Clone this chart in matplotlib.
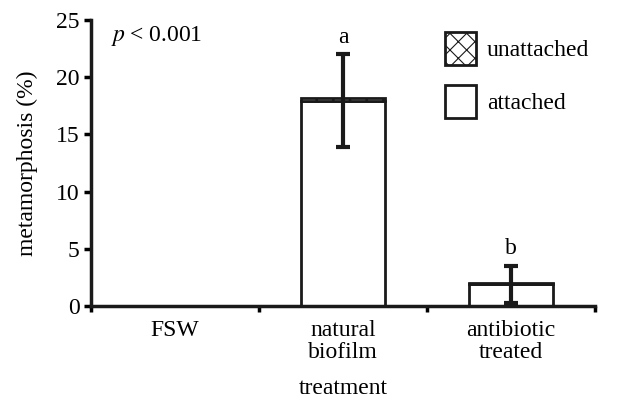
import matplotlib
matplotlib.use("Agg")
import matplotlib.pyplot as plt
from matplotlib.patches import Patch
import numpy as np

plt.rcParams['font.family'] = ['Liberation Serif', 'DejaVu Serif']
plt.rcParams['mathtext.fontset'] = 'stix'
plt.rcParams['hatch.linewidth'] = 0.8

treatments = ["FSW", "natural\nbiofilm", "antibiotic\ntreated"]
attached = [0.0, 17.9, 1.9]
unattached = [0.0, 0.3, 0.1]
mean_total = [0.0, 17.95, 1.9]
sem = [0.0, 4.05, 1.6]
letters = ["", "a", "b"]

FS = 17


def plot_metamorphosis():
    fig = plt.figure(figsize=(6.22, 4.01), dpi=100)
    ax = fig.add_axes([0.146, 0.237, 0.811, 0.713])

    x = np.arange(len(treatments))
    show = [i for i in x if attached[i] + unattached[i] > 0]
    ax.bar([x[i] for i in show], [attached[i] for i in show], width=0.5,
           color="white", edgecolor="#1a1a1a", linewidth=2)
    ax.bar([x[i] for i in show], [unattached[i] for i in show], width=0.5,
           bottom=[attached[i] for i in show], color="white",
           edgecolor="#1a1a1a", linewidth=2, hatch="xx")
    ax.errorbar([x[i] for i in show], [mean_total[i] for i in show],
                yerr=[sem[i] for i in show], fmt="none", ecolor="#1a1a1a",
                elinewidth=3, capsize=5, capthick=3)

    for i in show:
        ax.text(x[i], mean_total[i] + sem[i] + 1.0, letters[i],
                ha="center", va="baseline", fontsize=FS)

    ax.text(0.04, 0.945, r"$p$" + "\u2009< 0.001", transform=ax.transAxes,
            fontsize=FS, ha="left", va="center")

    ax.set_xlim(-0.5, 2.5)
    ax.set_ylim(0, 25)
    ax.set_yticks([0, 5, 10, 15, 20, 25])
    ax.set_xticks([-0.5, 0.5, 1.5, 2.5])
    ax.set_xticklabels([])
    ax.set_xticks(x, minor=True)
    ax.set_xticklabels(treatments, minor=True, fontsize=FS, linespacing=1.05)
    ax.tick_params(axis="x", which="minor", length=0, pad=10)
    ax.tick_params(axis="x", which="major", length=4, width=2.5, direction="out")
    ax.tick_params(axis="y", length=5, width=2.5, direction="out", labelsize=FS, pad=3)

    for side in ["top", "right"]:
        ax.spines[side].set_visible(False)
    for side in ["left", "bottom"]:
        ax.spines[side].set_linewidth(2.5)
        ax.spines[side].set_color("#1a1a1a")

    ax.set_ylabel("metamorphosis (%)", fontsize=FS, labelpad=13)
    ax.set_xlabel("treatment", fontsize=FS, labelpad=11)

    handles = [Patch(facecolor="white", edgecolor="#1a1a1a", linewidth=2, hatch="xx"),
               Patch(facecolor="white", edgecolor="#1a1a1a", linewidth=2)]
    ax.legend(handles, ["unattached", "attached"], loc="upper left",
              bbox_to_anchor=(0.67, 1.015), frameon=False, fontsize=FS,
              handlelength=1.3, handleheight=1.75, labelspacing=0.85,
              handletextpad=0.45, borderaxespad=0.3)

    plt.savefig("out.png", dpi=100)
    plt.close()


if __name__ == '__main__':
    plot_metamorphosis()
